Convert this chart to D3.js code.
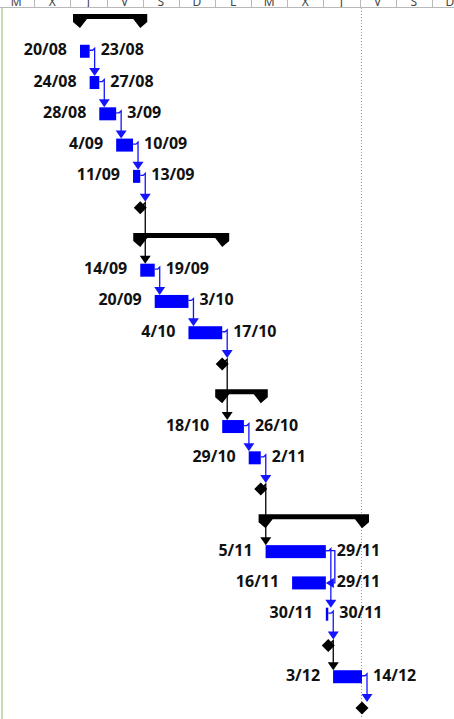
<!DOCTYPE html>
<html>
<head>
<meta charset="utf-8">
<script src="https://cdn.jsdelivr.net/npm/d3@7"></script>
<style>
  html, body { margin: 0; padding: 0; background: #fff; overflow: hidden; }
  svg { display: block; }
</style>
</head>
<body>
<svg id="gantt" width="454" height="719"></svg>
<script>
// ---------- data ----------
// row kinds: S = summary, T = task, M = milestone
const rowTypes  = ['S','T','T','T','T','T','M','S','T','T','T','M','S','T','T','M','S','T','T','T','M','T','M'];
const rowStarts = ['2018-08-20','2018-08-20','2018-08-24','2018-08-28','2018-09-04','2018-09-11','2018-09-13',
                   '2018-09-14','2018-09-14','2018-09-20','2018-10-04','2018-10-17',
                   '2018-10-18','2018-10-18','2018-10-29','2018-11-02',
                   '2018-11-05','2018-11-05','2018-11-16','2018-11-30','2018-11-30','2018-12-03','2018-12-14'];
const rowEnds   = ['2018-09-13','2018-08-23','2018-08-27','2018-09-03','2018-09-10','2018-09-13','2018-09-13',
                   '2018-10-17','2018-09-19','2018-10-03','2018-10-17','2018-10-17',
                   '2018-11-02','2018-10-26','2018-11-02','2018-11-02',
                   '2018-12-14','2018-11-29','2018-11-29','2018-11-30','2018-11-30','2018-12-14','2018-12-14'];

// dependencies (row index -> row index)
const linkFrom = [1, 2, 3, 4, 5, 6, 8, 9, 10, 11, 13, 14, 15, 17, 17, 19, 20, 21];
const linkTo   = [2, 3, 4, 5, 6, 8, 9, 10, 11, 13, 14, 15, 17, 19, 18, 20, 21, 22];
const linkKind = ['FS','FS','FS','FS','FS','FS','FS','FS','FS','FS','FS','FS','FS','FS','FF','FS','FS','FS'];

// timescale header
const headerLetters = ['M','X','J','V','S','D','L','M','X','J','V','S','D'];
const headerFirst = '2018-07-17';
const headerStepDays = 15;

const projectStart = '2018-08-20', projectFinish = '2018-12-14';

// ---------- helpers ----------
const parse = d3.timeParse('%Y-%m-%d');
const fmt = d3.timeFormat('%-d/%m');
const dayStart = s => parse(s);
const dayEnd = s => d3.timeDay.offset(parse(s), 1);

const W = 454, H = 719;
const BLUE = '#0000ff', LINKBLUE = '#1414ff', INK = '#111';

const x = d3.scaleTime()
  .domain([dayStart(projectStart), dayEnd(projectFinish)])
  .range([80, 362]);
const y = d3.scaleLinear().domain([0, rowTypes.length - 1]).range([20, 708]);

const rows = rowTypes.map((t, i) => ({
  i, type: t,
  start: rowStarts[i], end: rowEnds[i],
  x0: x(dayStart(rowStarts[i])),
  x1: x(dayEnd(rowEnds[i])),
  yc: y(i)
}));

const svg = d3.select('#gantt');

// ---------- header ----------
const hdr = svg.append('g');
const cols = headerLetters.map((l, k) => {
  const a = d3.timeDay.offset(parse(headerFirst), k * headerStepDays);
  const b = d3.timeDay.offset(a, headerStepDays);
  return { l, xa: x(a), xb: x(b) };
});
hdr.append('rect').attr('x', 0).attr('y', 0).attr('width', W).attr('height', 7.5).attr('fill', '#fff');
hdr.selectAll('text').data(cols).join('text')
  .attr('x', d => (d.xa + d.xb) / 2).attr('y', 5.5)
  .attr('text-anchor', 'middle')
  .attr('font-family', '"Noto Sans", sans-serif').attr('font-size', 12)
  .attr('fill', '#444').text(d => d.l);
hdr.selectAll('line.sep').data(cols).join('line').attr('class', 'sep')
  .attr('x1', d => Math.round(d.xb) + 0.5).attr('x2', d => Math.round(d.xb) + 0.5)
  .attr('y1', 0).attr('y2', 7.5).attr('stroke', '#b8b8b8');
hdr.append('line').attr('x1', 0).attr('x2', W).attr('y1', 7.5).attr('y2', 7.5).attr('stroke', '#b8b8b8');

// left edge marker
svg.append('line').attr('x1', 2).attr('x2', 2).attr('y1', 8).attr('y2', H)
  .attr('stroke', '#c4e0b2').attr('stroke-width', 2);

// project finish line
const xf = Math.round(x(dayEnd(projectFinish))) - 0.5;
svg.append('line').attr('x1', xf).attr('x2', xf).attr('y1', 8).attr('y2', H)
  .attr('stroke', '#9a9a9a').attr('stroke-dasharray', '1,2');

// ---------- summaries ----------
function summaryPath(d) {
  const t = d.yc - 6, a = d.x0, b = d.x1;
  return `M${a - 7},${t} L${b + 7},${t} L${b + 7},${t + 8} L${b},${t + 14} L${b - 7},${t + 5}
          L${a + 7},${t + 5} L${a},${t + 14} L${a - 7},${t + 8} Z`;
}
svg.append('g').selectAll('path').data(rows.filter(r => r.type === 'S')).join('path')
  .attr('d', summaryPath).attr('fill', '#000');

// ---------- links ----------
const gl = svg.append('g');
linkFrom.forEach((f, k) => {
  const p = rows[f], s = rows[linkTo[k]];
  const col = p.type === 'M' ? '#000' : LINKBLUE;
  const px = p.type === 'M' ? p.x1 + 4 : p.x1;
  const py = p.type === 'M' ? p.yc - 3 : p.yc - 1;
  if (linkKind[k] === 'FF') {
    const vx = p.x1 + 9, tx = s.x1;
    gl.append('path').attr('fill', 'none').attr('stroke', col).attr('stroke-width', 1.3)
      .attr('d', `M${px},${py} H${vx} V${s.yc} H${tx + 8}`);
    gl.append('path').attr('fill', col)
      .attr('d', `M${tx + 8},${s.yc - 5} L${tx + 8},${s.yc + 5} L${tx},${s.yc} Z`);
    return;
  }
  const vx = p.x1 + 5;
  const top = s.type === 'M' ? s.yc - 6 : s.yc - 6.5;
  gl.append('path').attr('fill', 'none').attr('stroke', col).attr('stroke-width', 1.3)
    .attr('d', `M${px},${py} L${vx - 2},${py} L${vx},${py - 2} V${top - 7}`);
  gl.append('path').attr('fill', col)
    .attr('d', `M${vx - 5.5},${top - 8} L${vx + 5.5},${top - 8} L${vx},${top} Z`);
});

// ---------- tasks ----------
const tasks = rows.filter(r => r.type === 'T');
svg.append('g').selectAll('rect').data(tasks).join('rect')
  .attr('x', d => d.x0).attr('y', d => d.yc - 6.5)
  .attr('width', d => Math.max(2, d.x1 - d.x0)).attr('height', 13)
  .attr('fill', BLUE);

// ---------- milestones ----------
svg.append('g').selectAll('path').data(rows.filter(r => r.type === 'M')).join('path')
  .attr('transform', d => `translate(${d.x1},${d.yc})`)
  .attr('d', 'M0,-6.5 L6.5,0 L0,6.5 L-6.5,0 Z').attr('fill', '#000');

// ---------- date labels ----------
const gt = svg.append('g').attr('font-family', '"Noto Sans", sans-serif')
  .attr('font-size', 16).attr('font-weight', 700).attr('fill', INK);
gt.selectAll('text.l').data(tasks).join('text').attr('class', 'l')
  .attr('x', d => d.x0 - 13).attr('y', d => d.yc + 4)
  .attr('text-anchor', 'end').text(d => fmt(parse(d.start)));
gt.selectAll('text.r').data(tasks).join('text').attr('class', 'r')
  .attr('x', d => d.x1 + 11).attr('y', d => d.yc + 4)
  .text(d => fmt(parse(d.end)));
</script>
</body>
</html>
